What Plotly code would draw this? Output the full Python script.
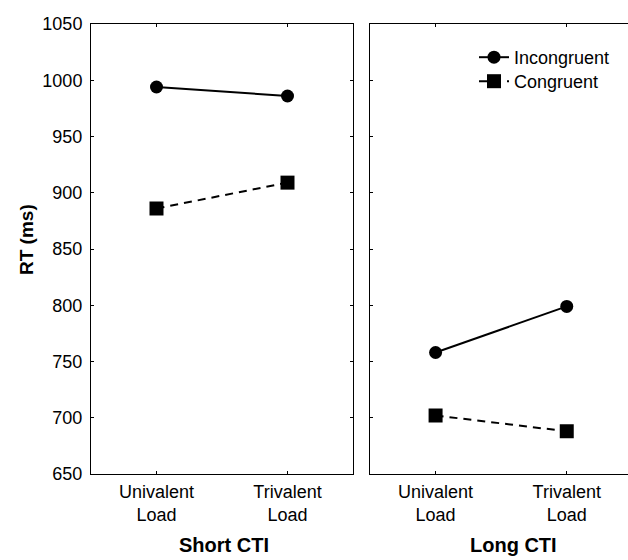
import plotly.graph_objects as go

categories = ["Univalent<br>Load", "Trivalent<br>Load"]
panels = ["Short CTI", "Long CTI"]
incongruent_short = [994, 986]
congruent_short = [886, 909]
incongruent_long = [758, 799]
congruent_long = [702, 688]
y_ticks = [650, 700, 750, 800, 850, 900, 950, 1000, 1050]

W, H = 628, 560
FONT = "Liberation Sans, Arial, sans-serif"
xpos = [0, 1]

fig = go.Figure()

def add_series(xa, ya, inc, con, show):
    fig.add_trace(go.Scatter(x=xpos, y=inc, xaxis=xa, yaxis=ya, mode="lines+markers",
                             name="Incongruent", showlegend=show, legend="legend",
                             line=dict(color="black", width=2),
                             marker=dict(symbol="circle", size=13, color="black")))
    fig.add_trace(go.Scatter(x=xpos, y=con, xaxis=xa, yaxis=ya, mode="lines+markers",
                             name="Congruent", showlegend=show, legend="legend2",
                             line=dict(color="black", width=2, dash="8px,6px"),
                             marker=dict(symbol="square", size=14, color="black")))

add_series("x", "y", incongruent_short, congruent_short, False)
add_series("x2", "y2", incongruent_long, congruent_long, True)

ydom = [1 - 474 / H, 1 - 24 / H]
tickfont = dict(family=FONT, size=18, color="black")

xcommon = dict(range=[-0.5, 1.5], tickvals=xpos, ticktext=categories, showgrid=False,
               zeroline=False, showline=True, linecolor="black", linewidth=1,
               ticks="inside", ticklen=3, tickcolor="black", mirror="ticks",
               tickfont=tickfont, fixedrange=True, automargin=False,
               ticklabelstandoff=1)

ycommon = dict(domain=ydom, range=[650, 1050], tickvals=y_ticks, showgrid=False,
               zeroline=False, showline=True, linecolor="black", linewidth=1,
               ticks="inside", ticklen=3, tickcolor="black", tickfont=tickfont,
               automargin=False, fixedrange=True)

legend_common = dict(x=474 / W, xanchor="left", yanchor="top", bgcolor="rgba(0,0,0,0)",
                     font=dict(family=FONT, size=18), itemwidth=30)

fig.update_layout(
    width=W, height=H, margin=dict(l=0, r=0, t=0, b=0, autoexpand=False),
    paper_bgcolor="white", plot_bgcolor="white",
    font=dict(family=FONT, size=18, color="black"),
    xaxis=dict(domain=[91 / W, 353 / W], **xcommon),
    xaxis2=dict(domain=[370 / W, 1.0], **{**xcommon, "range": [-0.5, 1.467]}),
    yaxis=dict(anchor="x", mirror="ticks", ticklabelstandoff=4, **ycommon),
    yaxis2=dict(anchor="x2", showticklabels=False, **ycommon),
    legend=dict(y=1 - 39 / H, **legend_common),
    legend2=dict(y=1 - 63 / H, **legend_common),
    showlegend=True,
)

fig.add_annotation(x=26 / W, y=1 - 240 / H, xref="paper", yref="paper", text="<b>RT (ms)</b>",
                   textangle=-90, showarrow=False, font=dict(family=FONT, size=19),
                   xanchor="center", yanchor="middle")

title_x = [224 / W, 513 / W]
for tx, label in zip(title_x, panels):
    fig.add_annotation(x=tx, y=1 - 545 / H, xref="paper", yref="paper", text=f"<b>{label}</b>",
                       showarrow=False, font=dict(family=FONT, size=20),
                       xanchor="center", yanchor="middle")

fig.write_html("out.html", config={"displayModeBar": False},
               post_script="document.body.style.margin='0';document.body.style.overflow='hidden';")
